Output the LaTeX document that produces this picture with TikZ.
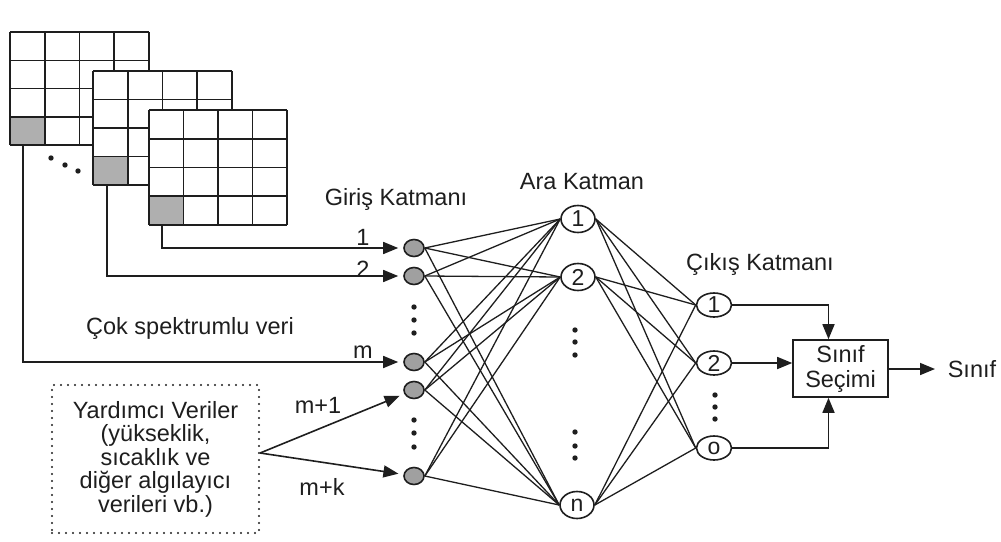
\documentclass[tikz,border=0pt]{standalone}
\usepackage{fontspec}
\setmainfont{Liberation Sans}
\usetikzlibrary{arrows.meta,calc,shapes.geometric}

\definecolor{cellgray}{RGB}{175,175,175}
\definecolor{unitgray}{RGB}{160,160,160}
\definecolor{inkgray}{RGB}{30,30,30}

% one 4x4 band image, its lower-left pixel shaded
\newcommand\cellgrid[4]{%
  \fill[white] (#1,#2) rectangle ++(4*#3,4*#4);
  \fill[cellgray] (#1,#2+3*#4) rectangle ++(#3,#4);
  \foreach \i in {0,...,4}{%
    \draw (#1+\i*#3,#2) -- ++(0,4*#4);
    \draw (#1,#2+\i*#4) -- ++(4*#3,0);
  }%
}

\begin{document}
\begin{tikzpicture}[x=1pt,y=-1pt,line width=1.6pt,draw=inkgray,
  txt/.style={font=\fontsize{23.5}{24}\selectfont,inner sep=0pt,text=inkgray},
  inunit/.style={ellipse,draw,fill=unitgray,minimum width=20pt,minimum height=17pt,inner sep=0pt},
  hidunit/.style={ellipse,draw,fill=white,minimum width=34pt,minimum height=27pt,inner sep=0pt,
    font=\fontsize{23}{23}\selectfont,text=inkgray},
  outunit/.style={hidunit,minimum width=35pt,minimum height=24pt},
  arr/.style={-{Triangle[length=15pt,width=12pt]}},
  link/.style={line width=1.3pt},
  vdot/.style={fill=inkgray}]

\useasboundingbox (0,0) rectangle (1001,541);

% stacked multispectral bands
\cellgrid{10}{32}{34.75}{28.3}
\cellgrid{93}{71}{34.75}{28.5}
\cellgrid{149}{110}{34.5}{28.75}
\foreach \p in {(51,158),(65,165),(78,171)} \fill[vdot] \p circle (2.7);

\coordinate (g1) at (23,145);
\coordinate (g2) at (107,185);
\coordinate (g3) at (162,225);

% input layer
\node[inunit] (in1)  at (414,248) {};
\node[inunit] (in2)  at (414,276) {};
\node[inunit] (inm)  at (414,362) {};
\node[inunit] (inm1) at (414,390) {};
\node[inunit] (inmk) at (414,476) {};
\foreach \y in {307,320,333,420,433,447} \fill[vdot] (414,\y) circle (2.7);

% hidden layer
\node[hidunit] (h1) at (578,219) {1};
\node[hidunit] (h2) at (578,277) {2};
\node[hidunit] (hn) at (577,505) {n};
\foreach \y in {330,342,355,432,446,458} \fill[vdot] (575,\y) circle (2.7);

% output layer
\node[outunit] (o1) at (714,305) {1};
\node[outunit] (o2) at (714,363) {2};
\node[outunit] (oo) at (714,448) {o};
\foreach \y in {395,407,419} \fill[vdot] (715,\y) circle (2.7);

% class selection
\node[draw,minimum width=95pt,minimum height=57pt,inner sep=0pt,align=center,
  font=\fontsize{23.5}{25}\selectfont,text=inkgray] (sel) at (840.5,368.5) {Sınıf\\Seçimi};
\node[txt,anchor=west] (cls) at (947,369) {Sınıf};

% ancillary data
\node[draw,dash pattern=on 0pt off 7pt,line cap=round,line width=2.2pt,
  minimum width=207pt,minimum height=148pt,inner sep=0pt,align=center,
  font=\fontsize{23.5}{23.5}\selectfont,text=inkgray] (aux) at (155.5,459)
  {Yardımcı Veriler\\(yükseklik,\\sıcaklık ve\\diğer algılayıcı\\verileri vb.)};
\coordinate (auxout) at ($(aux.east)+(0,-6)$);

% layer titles and labels
\node[txt] (tin)  at (396,199) {Giriş Katmanı};
\node[txt] (thid) at (582,182) {Ara Katman};
\node[txt] (tout) at (760,264) {Çıkış Katmanı};
\node[txt] (tms)  at (190,328) {Çok spektrumlu veri};
\node[txt] (l1)   at (363,237) {1};
\node[txt] (l2)   at (363,269) {2};
\node[txt] (lm)   at (363,352) {m};
\node[txt] (lm1)  at (318,405) {m+1};
\node[txt] (lmk)  at (322,487) {m+k};

% band inputs
\draw[arr,shorten >=5pt] (g3) |- (in1);
\draw[arr,shorten >=5pt] (g2) |- (in2);
\draw[arr,shorten >=5pt] (g1) |- (inm);
\draw[arr,shorten >=5pt] (auxout) -- (inm1);
\draw[arr,shorten >=5pt] (auxout) -- (inmk);

% full connections input -> hidden
\foreach \a in {in1,in2,inm,inm1,inmk}
  \foreach \b in {h1,h2,hn}
    \draw[link] (\a.east) -- (\b.west);

% full connections hidden -> output
\foreach \a in {h1,h2,hn}
  \foreach \b in {o1,o2,oo}
    \draw[link] (\a.east) -- (\b.west);

% outputs into class selection
\draw[arr] (o1.east) -| ([xshift=-12pt]sel.north);
\draw[arr] (o2.east) -- (o2 -| sel.west);
\draw[arr] (oo.east) -| ([xshift=-12pt]sel.south);
\draw[arr,shorten >=12pt] (sel.east |- cls) -- (cls.west);

\end{tikzpicture}
\end{document}
